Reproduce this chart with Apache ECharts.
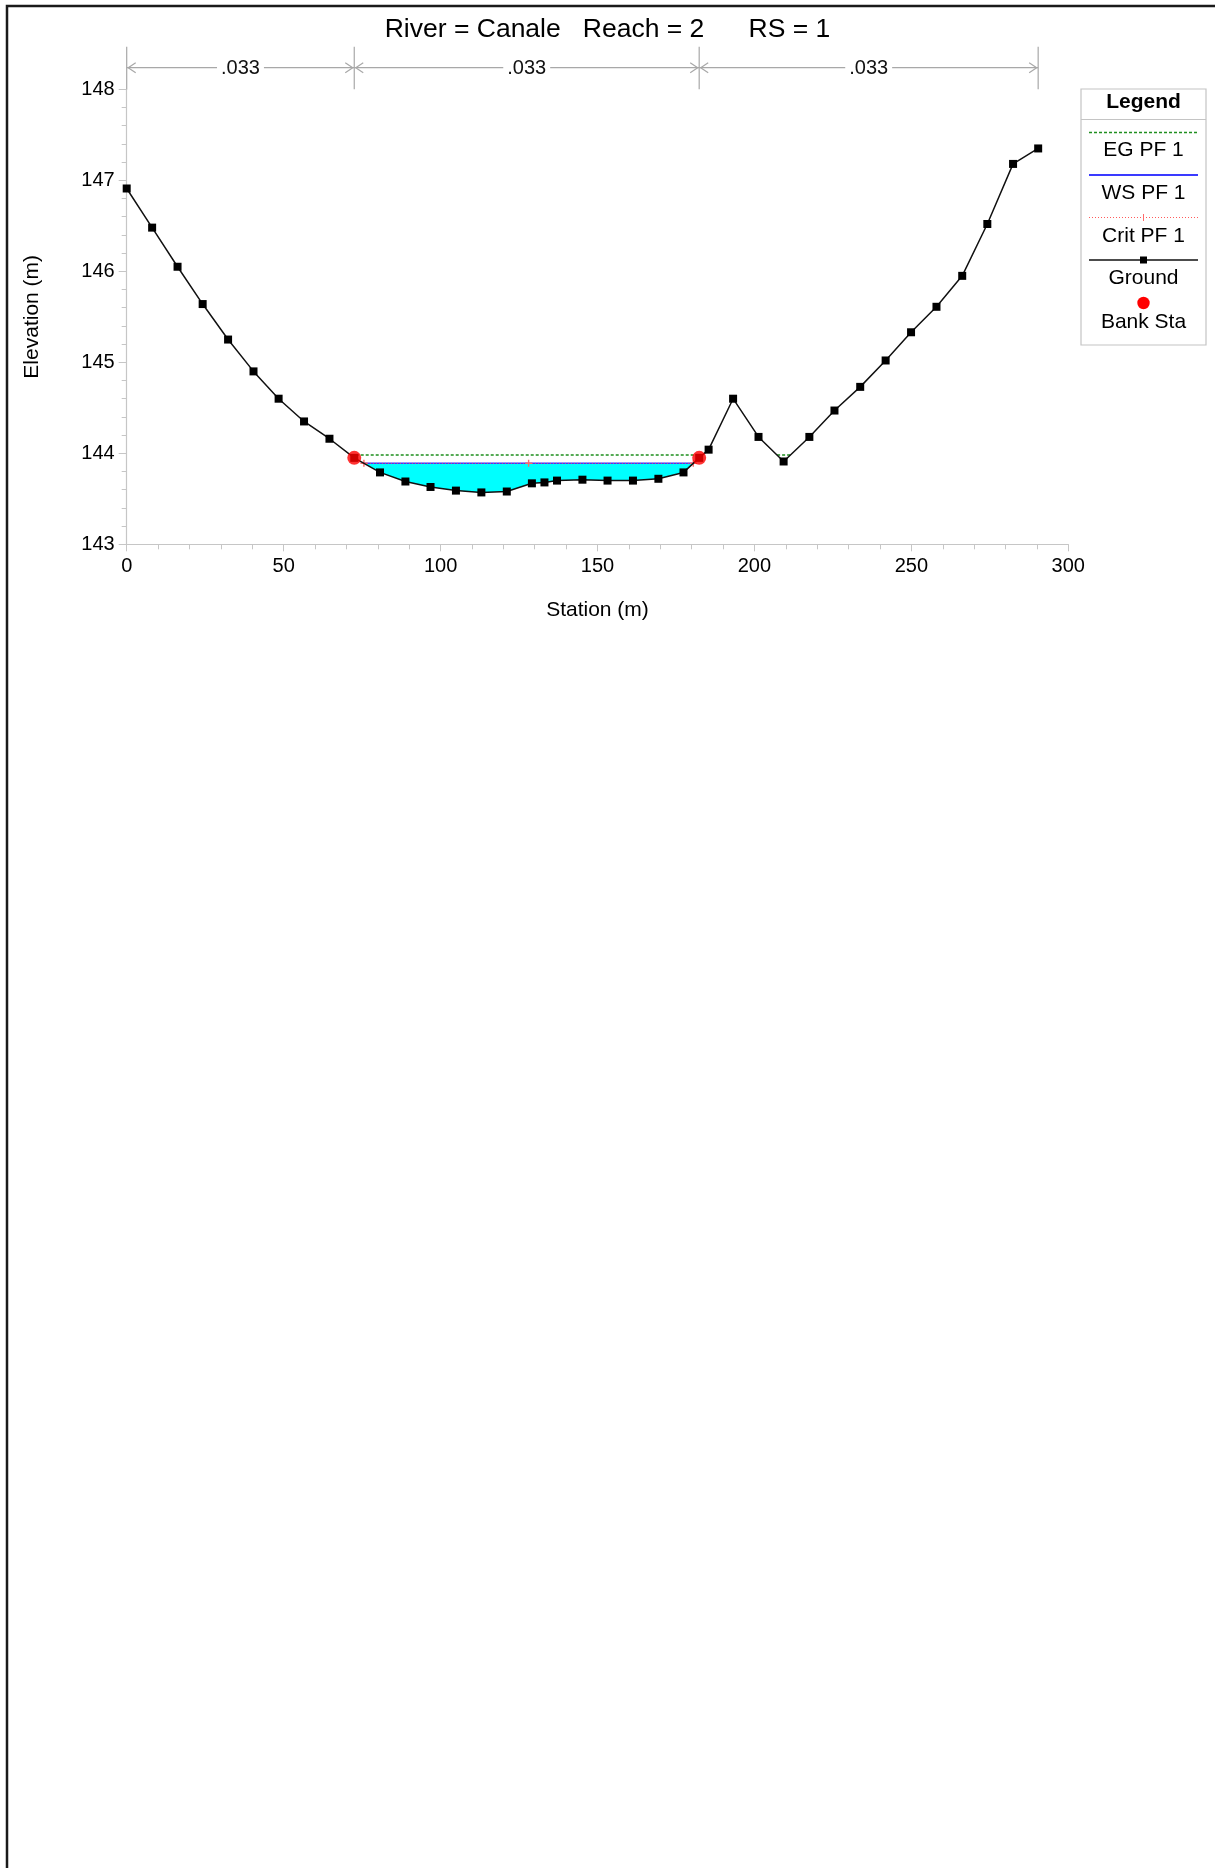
<!DOCTYPE html>
<html><head><meta charset="utf-8">
<script src="https://cdn.jsdelivr.net/npm/echarts@6/dist/echarts.min.js"></script>
<style>html,body{margin:0;padding:0;background:#fff}#c{width:1215px;height:1868px}</style>
</head><body><div id="c"></div>
<script>
// ---- data ----
const titleText = 'River = Canale   Reach = 2      RS = 1';
const stations = [0, 8.1, 16.2, 24.2, 32.3, 40.4, 48.4, 56.5, 64.6, 72.5, 80.7, 88.8, 96.8, 104.9, 113.0, 121.1, 129.1, 133.1, 137.1, 145.2, 153.2, 161.3, 169.4, 177.4, 182.4, 185.4, 193.2, 201.3, 209.3, 217.5, 225.5, 233.7, 241.8, 249.9, 258.0, 266.2, 274.2, 282.4, 290.4];
const elevations = [146.91, 146.48, 146.05, 145.64, 145.25, 144.90, 144.60, 144.35, 144.16, 143.95, 143.79, 143.69, 143.63, 143.59, 143.57, 143.58, 143.67, 143.68, 143.70, 143.71, 143.70, 143.70, 143.72, 143.79, 143.95, 144.04, 144.60, 144.18, 143.91, 144.18, 144.47, 144.73, 145.02, 145.33, 145.61, 145.95, 146.52, 147.18, 147.35];
const bankStations = [72.5, 182.4];
const bankElevations = [143.95, 143.95];
const egElevation = 143.98;
const wsElevation = 143.89;
const critElevation = 143.89;
const manningBounds = [0, 72.5, 182.4, 290.4];
const manningValues = ['.033', '.033', '.033'];
const legendLabels = ['EG PF 1', 'WS PF 1', 'Crit PF 1', 'Ground', 'Bank Sta'];
const xAxisTitle = 'Station (m)';
const yAxisTitle = 'Elevation (m)';
const xMin = 0, xMax = 300, xStep = 50;
const yMin = 143, yMax = 148, yStep = 1;

// ---- helpers ----
const FONT = '"Liberation Sans", Arial, Helvetica, sans-serif';
const ground = stations.map((s, i) => [s, elevations[i]]);

// intervals where ground lies below a level (intersection geometry with the ground line)
function wetIntervals(level) {
  const out = [];
  let cur = null;
  for (let i = 0; i < ground.length; i++) {
    const [s, e] = ground[i];
    if (e < level) {
      if (!cur) {
        let x0 = s;
        if (i > 0) {
          const [sp, ep] = ground[i - 1];
          x0 = sp + (ep - level) / (ep - e) * (s - sp);
        }
        cur = { x0, pts: [] };
      }
      cur.pts.push([s, e]);
    } else if (cur) {
      const [sp, ep] = ground[i - 1];
      cur.x1 = sp + (level - ep) / (e - ep) * (s - sp);
      out.push(cur); cur = null;
    }
  }
  if (cur) { cur.x1 = ground[ground.length - 1][0]; out.push(cur); }
  return out;
}

const egSegs = wetIntervals(egElevation);
const wsSegs = wetIntervals(wsElevation);
const critSegs = wetIntervals(critElevation);

const series = [];

// water fill
series.push({
  type: 'custom', name: 'fill', z: 1, silent: true,
  data: [[0, yMin]],
  renderItem: function (params, api) {
    const children = wsSegs.map(seg => {
      const poly = [api.coord([seg.x0, wsElevation])]
        .concat(seg.pts.map(p => api.coord(p)))
        .concat([api.coord([seg.x1, wsElevation])]);
      return { type: 'polygon', shape: { points: poly }, style: { fill: '#00ffff' } };
    });
    return { type: 'group', children };
  }
});

// EG
egSegs.forEach(seg => series.push({
  type: 'line', name: legendLabels[0], z: 3, symbol: 'none', silent: true,
  data: [[seg.x0, egElevation], [seg.x1, egElevation]],
  lineStyle: { color: '#1f8f1f', width: 1.5, type: [3, 2] }
}));
// WS
wsSegs.forEach(seg => series.push({
  type: 'line', name: legendLabels[1], z: 3, symbol: 'none', silent: true,
  data: [[seg.x0, wsElevation], [seg.x1, wsElevation]],
  lineStyle: { color: '#3a3aff', width: 1.6 }
}));
// Crit
const plusPath = 'path://M4,0h2v4h4v2h-4v4h-2v-4h-4v-2h4z';
critSegs.forEach(seg => series.push({
  type: 'line', name: legendLabels[2], z: 4, silent: true,
  symbol: plusPath, symbolSize: 7, showSymbol: true,
  data: [[seg.x0, critElevation], [(seg.x0 + seg.x1) / 2, critElevation], [seg.x1, critElevation]],
  itemStyle: { color: '#ff6a6a' },
  lineStyle: { color: '#ff5a5a', width: 1, type: [1, 2], opacity: 0.9 }
}));
// Ground
series.push({
  type: 'line', name: legendLabels[3], z: 5, silent: true,
  data: ground, symbol: 'rect', symbolSize: 8, showAllSymbol: true,
  itemStyle: { color: '#000' },
  lineStyle: { color: '#111', width: 1.5 }
});
// Bank Sta
series.push({
  type: 'scatter', name: legendLabels[4], z: 6, silent: true,
  data: bankStations.map((s, i) => [s, bankElevations[i]]),
  symbol: 'circle', symbolSize: 14,
  itemStyle: { color: '#ff0000' }
});
// Manning's n bracket above the plot
series.push({
  type: 'custom', name: 'manning', z: 2, silent: true, clip: false,
  data: [[0, yMax]],
  renderItem: function (params, api) {
    const top = api.coord([0, yMax])[1];
    const yL = top - 21.6, yT = top - 42.6;
    const stroke = '#a8a8a8';
    const ch = [];
    manningBounds.forEach(b => {
      const x = api.coord([b, yMax])[0];
      ch.push({ type: 'line', shape: { x1: x, y1: yT, x2: x, y2: top }, style: { stroke: stroke, lineWidth: 1.2 } });
    });
    for (let i = 0; i < manningValues.length; i++) {
      const x0 = api.coord([manningBounds[i], yMax])[0];
      const x1 = api.coord([manningBounds[i + 1], yMax])[0];
      ch.push({ type: 'line', shape: { x1: x0, y1: yL, x2: x1, y2: yL }, style: { stroke: stroke, lineWidth: 1.2 } });
      ch.push({ type: 'polyline', shape: { points: [[x0 + 9, yL - 5], [x0 + 1.5, yL], [x0 + 9, yL + 5]] }, style: { stroke: stroke, fill: null, lineWidth: 1.2 } });
      ch.push({ type: 'polyline', shape: { points: [[x1 - 9, yL - 5], [x1 - 1.5, yL], [x1 - 9, yL + 5]] }, style: { stroke: stroke, fill: null, lineWidth: 1.2 } });
      ch.push({ type: 'text', z2: 10, style: { text: manningValues[i], x: (x0 + x1) / 2, y: yL + 1, align: 'center', verticalAlign: 'middle', font: '20px ' + FONT, fill: '#111', backgroundColor: '#fff', padding: [1, 4] } });
    }
    return { type: 'group', children: ch };
  }
});

// ---- legend drawn as graphics ----
const LX0 = 1081, LX1 = 1206, LCX = (LX0 + LX1) / 2;
const lineYs = [132.5, 175, 217.5, 260, 303];
const textYs = [150.5, 193.5, 236, 278.5, 322];
const g = [];
g.push({ type: 'rect', shape: { x: LX0, y: 89, width: LX1 - LX0, height: 256 }, style: { fill: '#fff', stroke: '#c4c4c4', lineWidth: 1.2 }, z: 100 });
g.push({ type: 'line', shape: { x1: LX0, y1: 119.5, x2: LX1, y2: 119.5 }, style: { stroke: '#c4c4c4', lineWidth: 1.2 }, z: 101 });
g.push({ type: 'text', style: { text: 'Legend', x: LCX, y: 102.5, align: 'center', verticalAlign: 'middle', font: 'bold 21px ' + FONT, fill: '#000' }, z: 101 });
const lx0 = 1089, lx1 = 1198;
g.push({ type: 'line', shape: { x1: lx0, y1: lineYs[0], x2: lx1, y2: lineYs[0] }, style: { stroke: '#1f8f1f', lineWidth: 1.3, lineDash: [3, 2] }, z: 101 });
g.push({ type: 'line', shape: { x1: lx0, y1: lineYs[1], x2: lx1, y2: lineYs[1] }, style: { stroke: '#3a3aff', lineWidth: 2 }, z: 101 });
g.push({ type: 'line', shape: { x1: lx0, y1: lineYs[2], x2: lx1, y2: lineYs[2] }, style: { stroke: '#ff5a5a', lineWidth: 1, lineDash: [1, 2] }, z: 101 });
g.push({ type: 'line', shape: { x1: LCX, y1: lineYs[2] - 3.5, x2: LCX, y2: lineYs[2] + 3.5 }, style: { stroke: '#ff6a6a', lineWidth: 1 }, z: 101 });
g.push({ type: 'line', shape: { x1: lx0, y1: lineYs[3], x2: lx1, y2: lineYs[3] }, style: { stroke: '#111', lineWidth: 1.5 }, z: 101 });
g.push({ type: 'rect', shape: { x: LCX - 3.5, y: lineYs[3] - 3.5, width: 7, height: 7 }, style: { fill: '#000' }, z: 102 });
g.push({ type: 'circle', shape: { cx: LCX, cy: lineYs[4], r: 6.2 }, style: { fill: '#ff0000' }, z: 102 });
legendLabels.forEach((t, i) => g.push({ type: 'text', style: { text: t, x: LCX, y: textYs[i], align: 'center', verticalAlign: 'middle', font: '21px ' + FONT, fill: '#000' }, z: 101 }));
// outer frame (top and left edges visible)
g.push({ type: 'rect', shape: { x: 7, y: 6, width: 1400, height: 2000 }, style: { fill: null, stroke: '#1a1a1a', lineWidth: 2.5 }, z: 200 });

const axisGray = '#c6c6c6';
const option = {
  animation: false,
  backgroundColor: '#fff',
  textStyle: { fontFamily: FONT },
  title: {
    text: titleText, left: 'center', top: 11,
    textStyle: { fontSize: 26.5, fontWeight: 'normal', color: '#000', fontFamily: FONT }
  },
  grid: { left: 126.7, right: 1215 - 1068.3, top: 89.3, bottom: 1868 - 544.3, containLabel: false },
  xAxis: {
    type: 'value', min: xMin, max: xMax, interval: xStep,
    axisLine: { show: true, onZero: false, lineStyle: { color: axisGray, width: 1.2 } },
    axisTick: { show: true, length: 7, lineStyle: { color: axisGray } },
    minorTick: { show: true, splitNumber: 5, length: 5, lineStyle: { color: axisGray } },
    splitLine: { show: false },
    axisLabel: { fontSize: 20, color: '#000', margin: 12, fontFamily: FONT },
    name: xAxisTitle, nameLocation: 'middle', nameGap: 55,
    nameTextStyle: { fontSize: 21, color: '#000', fontFamily: FONT }
  },
  yAxis: {
    type: 'value', min: yMin, max: yMax, interval: yStep,
    axisLine: { show: true, onZero: false, lineStyle: { color: axisGray, width: 1.2 } },
    axisTick: { show: true, length: 8, lineStyle: { color: axisGray } },
    minorTick: { show: true, splitNumber: 5, length: 5, lineStyle: { color: axisGray } },
    splitLine: { show: false },
    axisLabel: { fontSize: 20, color: '#000', margin: 12, fontFamily: FONT },
    name: yAxisTitle, nameLocation: 'middle', nameGap: 84, nameRotate: 90,
    nameTextStyle: { fontSize: 21, color: '#000', fontFamily: FONT }
  },
  series: series,
  graphic: g
};
const chart = echarts.init(document.getElementById('c'), null, { renderer: 'canvas' });
chart.setOption(option);
</script></body></html>
